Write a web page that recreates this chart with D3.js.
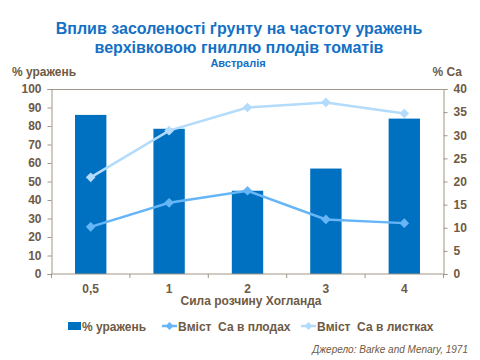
<!DOCTYPE html>
<html><head><meta charset="utf-8">
<script src="https://cdn.jsdelivr.net/npm/d3@7"></script>
<style>body{margin:0;background:#fff}svg{display:block;font-family:Arial,"Liberation Sans",sans-serif}</style>
</head><body><svg id="c" width="480" height="360"></svg>
<script>
const categories = ["0,5","1","2","3","4"];
const affected = [86, 78.5, 45, 57, 84];
const caFruits = [10.2, 15.4, 18.0, 11.8, 11.0];
const caLeaves = [20.9, 31.0, 36.0, 37.1, 34.7];
const leftTicks = [0,10,20,30,40,50,60,70,80,90,100];
const rightTicks = [0,5,10,15,20,25,30,35,40];

const svg = d3.select("#c");
const m = {l:51.5, r:443.5, t:89, b:274};
const xb = d3.scaleBand().domain(categories).range([m.l, m.r]);
const yL = d3.scaleLinear().domain([0,100]).range([m.b, m.t]);
const yR = d3.scaleLinear().domain([0,40]).range([m.b, m.t]);
const axisCol = "#a09586", txtCol = "#6e5a45";

svg.append("line").attr("x1",m.l).attr("x2",m.r).attr("y1",m.t+0.5).attr("y2",m.t+0.5).attr("stroke",axisCol);

svg.selectAll("rect.bar").data(affected).join("rect").attr("class","bar")
  .attr("x",(d,i)=>xb(categories[i])+xb.bandwidth()*0.3)
  .attr("width",xb.bandwidth()*0.4)
  .attr("y",d=>yL(d)).attr("height",d=>m.b-yL(d)).attr("fill","#0070c0");

const gL = svg.append("g").attr("transform",`translate(${m.l},0)`)
  .call(d3.axisLeft(yL).tickValues(leftTicks).tickSize(4).tickPadding(6));
const gR = svg.append("g").attr("transform",`translate(${m.r},0)`)
  .call(d3.axisRight(yR).tickValues(rightTicks).tickSize(4).tickPadding(6));
const gX = svg.append("g").attr("transform",`translate(0,${m.b})`)
  .call(d3.axisBottom(xb).tickSize(0).tickPadding(10));
const bounds = categories.map(c=>xb(c)).concat([m.r]);
svg.selectAll("line.xt").data(bounds).join("line").attr("class","xt")
  .attr("x1",d=>d).attr("x2",d=>d).attr("y1",m.b).attr("y2",m.b+4).attr("stroke",axisCol);
[gL,gR,gX].forEach(g=>{
  g.selectAll("path,line").attr("stroke",axisCol);
  g.selectAll("text").attr("fill",txtCol).attr("font-size","12px").attr("font-weight","bold");
});
gX.select(".domain").attr("d",`M${m.l},0H${m.r}`);

function series(data,col,sz){
  const line = d3.line().x((d,i)=>xb(categories[i])+xb.bandwidth()/2).y(d=>yR(d));
  svg.append("path").datum(data).attr("d",line).attr("fill","none").attr("stroke",col).attr("stroke-width",2.5);
  svg.selectAll(null).data(data).join("path")
    .attr("d",d3.symbol(d3.symbolDiamond2,sz)())
    .attr("transform",(d,i)=>`translate(${xb(categories[i])+xb.bandwidth()/2},${yR(d)})`)
    .attr("fill",col);
}
series(caFruits,"#66b6f7",60);
series(caLeaves,"#b3dbfb",60);

svg.append("text").attr("x",239).attr("y",34).attr("text-anchor","middle").attr("font-size","16px").attr("font-weight","bold").attr("fill","#1470c4").text("Вплив засоленості ґрунту на частоту уражень");
svg.append("text").attr("x",239).attr("y",53).attr("text-anchor","middle").attr("font-size","16px").attr("font-weight","bold").attr("fill","#1470c4").text("верхівковою гниллю плодів томатів");
svg.append("text").attr("x",238).attr("y",67).attr("text-anchor","middle").attr("font-size","11px").attr("font-weight","bold").attr("fill","#1470c4").text("Австралія");
svg.append("text").attr("x",12).attr("y",76).attr("font-size","12px").attr("font-weight","bold").attr("fill",txtCol).text("% уражень");
svg.append("text").attr("x",462).attr("y",76).attr("text-anchor","end").attr("font-size","12px").attr("font-weight","bold").attr("fill",txtCol).text("% Са");
svg.append("text").attr("x",251).attr("y",305).attr("text-anchor","middle").attr("font-size","12px").attr("font-weight","bold").attr("fill",txtCol).text("Сила розчину Хогланда");

const lg = svg.append("g");
lg.append("rect").attr("x",68).attr("y",322).attr("width",13).attr("height",8).attr("fill","#0070c0");
lg.append("text").attr("x",82).attr("y",331).attr("font-size","12px").attr("font-weight","bold").attr("fill",txtCol).text("% уражень");
[[162,"#66b6f7","Вміст  Са в плодах"],[301,"#b3dbfb","Вміст  Са в листках"]].forEach(([lx,col,t])=>{
  lg.append("line").attr("x1",lx).attr("x2",lx+15).attr("y1",326).attr("y2",326).attr("stroke",col).attr("stroke-width",2.5);
  lg.append("path").attr("d",d3.symbol(d3.symbolDiamond2,40)()).attr("transform",`translate(${lx+7.5},326)`).attr("fill",col);
  lg.append("text").attr("x",lx+16).attr("y",331).attr("font-size","12px").attr("font-weight","bold").attr("fill",txtCol).style("white-space","pre").text(t);
});
svg.append("text").attr("x",468).attr("y",353).attr("text-anchor","end").attr("font-size","10px").attr("font-style","italic").attr("fill",txtCol).text("Джерело: Barke and Menary, 1971");
</script></body></html>
